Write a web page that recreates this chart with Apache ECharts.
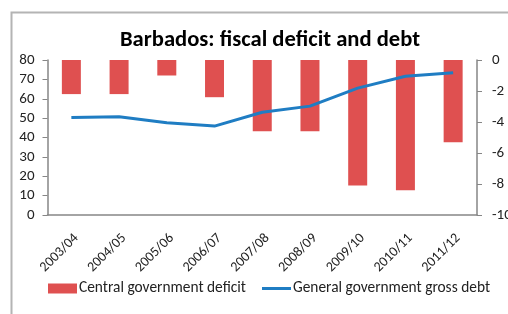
<!DOCTYPE html>
<html>
<head>
<meta charset="utf-8">
<script src="https://cdn.jsdelivr.net/npm/echarts@6/dist/echarts.min.js"></script>
<style>
  html, body { margin: 0; padding: 0; background: #fff; }
  #chart { width: 508px; height: 314px; }
</style>
</head>
<body>
<div id="chart"></div>
<script>
const years = ['2003/04', '2004/05', '2005/06', '2006/07', '2007/08', '2008/09', '2009/10', '2010/11', '2011/12'];
const deficit = [-2.2, -2.2, -1.0, -2.4, -4.6, -4.6, -8.1, -8.4, -5.3];
const grossDebt = [50.3, 50.7, 47.6, 45.9, 53.0, 56.2, 65.5, 71.6, 73.4];

const font = "Carlito, 'Open Sans', sans-serif";
const axisGrey = '#868686';

const myChart = echarts.init(document.getElementById('chart'));

const option = {
  animation: false,
  textStyle: { fontFamily: font },
  title: {
    text: 'Barbados: fiscal deficit and debt',
    left: 265,
    top: 24,
    textAlign: 'center',
    textStyle: { fontSize: 22.6, fontWeight: 'bold', color: '#000', fontFamily: font },
  },
  graphic: [{
    type: 'polyline',
    shape: { points: [[11.5, 320], [11.5, 12.5], [510, 12.5]] },
    style: { stroke: '#b4b4b4', lineWidth: 2, fill: null },
  }],
  legend: {
    left: 48,
    top: 281,
    padding: 0,
    itemWidth: 29,
    itemHeight: 10,
    itemGap: 16,
    textStyle: { fontSize: 15.4, color: '#222', fontFamily: font, padding: [0, 0, 0, -3] },
    data: [
      { name: 'Central government deficit', icon: 'rect' },
      { name: 'General government gross debt', icon: 'path://M0,0 M0,10 M0,3.5 L29,3.5 L29,6.5 L0,6.5 Z' },
    ],
  },
  grid: {
    left: 47.5,
    right: 31,
    top: 60,
    height: 155,
    containLabel: false,
    outerBoundsMode: 'none',
  },
  xAxis: {
    type: 'category',
    data: years,
    axisLine: { lineStyle: { color: axisGrey, width: 1.5 } },
    axisTick: { alignWithLabel: false, length: 5, lineStyle: { color: axisGrey } },
    axisLabel: { rotate: 45, fontSize: 14, color: '#222', margin: 16, verticalAlign: 'top', interval: 0 },
  },
  yAxis: [
    {
      type: 'value',
      min: 0,
      max: 80,
      interval: 10,
      splitLine: { show: false },
      axisLine: { show: true, lineStyle: { color: axisGrey, width: 1.5 } },
      axisTick: { show: true, length: 5, lineStyle: { color: axisGrey } },
      axisLabel: { fontSize: 15, color: '#222', margin: 13 },
    },
    {
      type: 'value',
      min: -10,
      max: 0,
      interval: 2,
      position: 'right',
      splitLine: { show: false },
      axisLine: { show: true, lineStyle: { color: axisGrey, width: 1.5 } },
      axisTick: { show: true, length: 5, lineStyle: { color: axisGrey } },
      axisLabel: { fontSize: 15, color: '#222', margin: 15 },
    },
  ],
  series: [
    {
      name: 'Central government deficit',
      type: 'bar',
      yAxisIndex: 1,
      data: deficit,
      barWidth: 19,
      itemStyle: { color: '#df5050' },
    },
    {
      name: 'General government gross debt',
      type: 'line',
      yAxisIndex: 0,
      data: grossDebt,
      symbol: 'none',
      lineStyle: { color: '#1f7dc3', width: 3 },
      itemStyle: { color: '#1f7dc3' },
    },
  ],
};

myChart.setOption(option);
window.addEventListener('resize', myChart.resize);
</script>
</body>
</html>
